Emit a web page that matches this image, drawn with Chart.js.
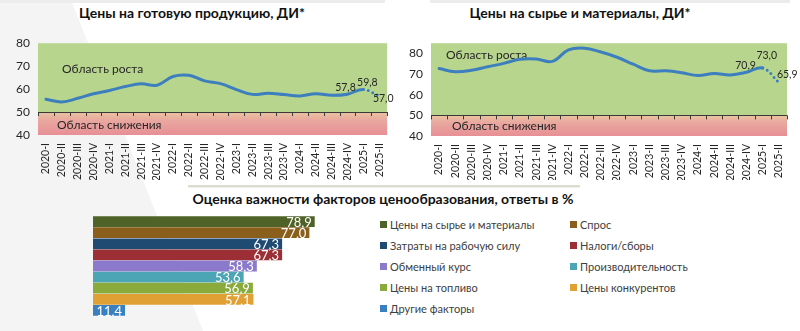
<!DOCTYPE html>
<html>
<head>
<meta charset="utf-8">
<script src="https://cdn.jsdelivr.net/npm/chart.js@4.4.1/dist/chart.umd.min.js"></script>
<style>
  html, body { margin:0; padding:0; background:#fff; width:800px; height:331px; overflow:hidden; font-family: Lato, "Open Sans", sans-serif; }
  .box { position:absolute; }
  .bgshape { position:absolute; left:0; top:0; width:800px; height:331px; background:#f4f4f4; clip-path: polygon(0 0, 71px 0, 203px 331px, 0 331px); }
  .title { position:absolute; font-weight:bold; font-size:14px; color:#111; white-space:nowrap; transform:translate(-50%,-50%); }
  #legend { position:absolute; left:380px; top:214px; display:grid; grid-template-columns:190px 150px; grid-auto-rows:21px; font-size:11px; color:#404040; }
  #legend .it { display:flex; align-items:center; white-space:nowrap; }
  #legend .sw { width:7px; height:7px; margin-right:3px; display:inline-block; }
  .deco { position:absolute; height:3px; background:#ececec; }
  .line2 { position:absolute; left:188px; top:185px; width:392px; height:2px; background:#dcdccc; box-shadow:0 1px 1px #eee; }
</style>
</head>
<body>
<div class="bgshape"></div>
<div class="deco" style="left:0;top:0;width:385px"></div>
<div class="deco" style="left:430px;top:0;width:360px"></div>
<div class="title" style="left:192px;top:12px">Цены на готовую продукцию, ДИ*</div>
<div class="title" style="left:580px;top:12px">Цены на сырье и материалы, ДИ*</div>
<div class="line2"></div>
<div class="title" style="left:383px;top:198px">Оценка важности факторов ценообразования, ответы в %</div>

<div class="box" style="left:0;top:28px;width:400px;height:152px"><canvas id="c1"></canvas></div>
<div class="box" style="left:400px;top:28px;width:400px;height:152px"><canvas id="c2"></canvas></div>
<div class="box" style="left:93px;top:216px;width:281px;height:100px"><canvas id="c3"></canvas></div>
<div id="legend"></div>

<script>
// ---- data ----
const quarters = ["2020-I","2020-II","2020-III","2020-IV","2021-I","2021-II","2021-III","2021-IV",
  "2022-I","2022-II","2022-III","2022-IV","2023-I","2023-II","2023-III","2023-IV",
  "2024-I","2024-II","2024-III","2024-IV","2025-I","2025-II"];
const finishedGoodsDI = [55.6, 54.4, 56.0, 58.0, 59.4, 61.1, 62.3, 61.7, 65.5, 66.0, 63.6, 62.4,
  59.8, 57.7, 58.2, 57.6, 57.0, 58.0, 57.3, 57.8, 59.8, 57.0];
const rawMaterialsDI = [72.7, 71.2, 71.9, 73.6, 75.2, 77.2, 77.3, 76.2, 81.8, 82.6, 80.7, 78.2,
  74.8, 71.6, 71.6, 70.7, 69.3, 70.3, 69.6, 70.9, 73.0, 65.9];
const yTicksLeft = [40, 50, 60, 70, 80];
const yTicksRight = [40, 50, 60, 70, 80];
const factorLabels = ["Цены на сырье и материалы","Спрос","Затраты на рабочую силу","Налоги/сборы",
  "Обменный курс","Производительность","Цены на топливо","Цены конкурентов","Другие факторы"];
const factorValues = [78.9, 77.0, 67.3, 67.3, 58.3, 53.6, 56.9, 57.1, 11.4];
const factorColors = ["#4f6228","#8a5f1c","#1f4b73","#9b2f35","#8b79cc","#4ba5b5","#8aab3c","#e0a033","#3a80c0"];

const FONT = "Lato, 'Open Sans', sans-serif";
const fmt = v => v.toFixed(1).replace('.', ',');

// background zones + axis at 50 + zone captions
const zonesPlugin = {
  id: 'zones',
  beforeDatasetsDraw(chart, args, opts) {
    const {ctx, chartArea: a, scales: {x, y}} = chart;
    const y50 = y.getPixelForValue(50);
    ctx.save();
    ctx.fillStyle = '#b8d58e';
    ctx.fillRect(a.left, a.top, a.right - a.left, y50 - a.top);
    const g = ctx.createLinearGradient(0, y50, 0, a.bottom);
    g.addColorStop(0, '#e9c4a0');
    g.addColorStop(0.35, '#e9a8a0');
    g.addColorStop(1, '#e78f95');
    ctx.fillStyle = g;
    ctx.fillRect(a.left, y50, a.right - a.left, a.bottom - y50);
    // axis line at 50 with tick marks
    ctx.strokeStyle = '#3a3a3a';
    ctx.lineWidth = 1;
    ctx.beginPath();
    ctx.moveTo(a.left, Math.round(y50) + 0.5);
    ctx.lineTo(a.right, Math.round(y50) + 0.5);
    for (let i = 0; i <= quarters.length; i++) {
      const px = Math.round(x.getPixelForValue(i - 0.5)) + 0.5;
      ctx.moveTo(px, y50);
      ctx.lineTo(px, y50 + 4);
    }
    ctx.stroke();
    ctx.fillStyle = '#262626';
    ctx.font = '12px ' + FONT;
    ctx.textBaseline = 'middle';
    ctx.fillText('Область роста', a.left + opts.growX, a.top + opts.growY);
    ctx.fillText('Область снижения', a.left + opts.fallX, y50 + opts.fallY);
    ctx.restore();
  },
  afterDatasetsDraw(chart, args, opts) {
    const {ctx} = chart;
    const meta = chart.getDatasetMeta(0);
    const data = chart.data.datasets[0].data;
    ctx.save();
    ctx.fillStyle = '#262626';
    ctx.font = '10.5px ' + FONT;
    ctx.textBaseline = 'middle';
    opts.labels.forEach(l => {
      const p = meta.data[l.i];
      ctx.textAlign = l.align || 'center';
      ctx.fillText(fmt(data[l.i]), p.x + l.dx, p.y + l.dy);
    });
    ctx.restore();
  }
};

function lineChart(id, values, max, yw, padR, padT, xh, ticks, zoneOpts) {
  const last = values.length - 1;
  return new Chart(document.getElementById(id), {
    type: 'line',
    data: {
      labels: quarters,
      datasets: [{
        data: values,
        borderColor: '#3d7fbe',
        borderWidth: 3,
        borderCapStyle: 'round',
        pointRadius: 0,
        tension: 0.4,
        segment: {
          borderDash: c => c.p1DataIndex === last ? [0, 5] : undefined
        }
      }]
    },
    plugins: [zonesPlugin],
    options: {
      responsive: true, maintainAspectRatio: false, animation: false,
      layout: { padding: { top: padT, right: padR, left: 0, bottom: 0 } },
      plugins: { legend: { display: false }, tooltip: { enabled: false }, zones: zoneOpts },
      scales: {
        x: {
          offset: true,
          grid: { display: false, drawTicks: false },
          border: { display: false },
          ticks: { minRotation: 90, maxRotation: 90, autoSkip: false, padding: 8,
                   font: { size: 10.5, family: FONT }, color: '#262626' },
          afterFit: s => { s.height = xh; }
        },
        y: {
          min: 40, max: max,
          grid: { display: false, drawTicks: false },
          border: { display: false },
          afterBuildTicks: s => { s.ticks = ticks.map(v => ({ value: v })); },
          ticks: { padding: 8, font: { size: 12, family: FONT }, color: '#262626' },
          afterFit: s => { s.width = yw; }
        }
      }
    }
  });
}

lineChart('c1', finishedGoodsDI, 80, 38, 7, 10, 45, yTicksLeft, {
  growX: 24, growY: 26, fallX: 19, fallY: 13,
  labels: [
    { i: 19, dx: -2, dy: -7 },
    { i: 20, dx: 4, dy: -7 },
    { i: 21, dx: 4, dy: 3 }
  ]
});
lineChart('c2', rawMaterialsDI, 85, 31, 13, 13, 44, yTicksRight, {
  growX: 15, growY: 12, fallX: 21, fallY: 11,
  labels: [
    { i: 19, dx: -1, dy: -7 },
    { i: 20, dx: 4, dy: -12 },
    { i: 21, dx: -2, dy: -8, align: 'left' }
  ]
});

// bar chart
const barLabels = {
  id: 'barLabels',
  afterDatasetsDraw(chart) {
    const {ctx} = chart;
    const meta = chart.getDatasetMeta(0);
    ctx.save();
    ctx.fillStyle = '#ffffff';
    ctx.font = '13px ' + FONT;
    ctx.textAlign = 'right';
    ctx.textBaseline = 'middle';
    meta.data.forEach((b, i) => {
      ctx.fillText(fmt(factorValues[i]), b.x - 3, b.y + 1);
    });
    ctx.restore();
  }
};
new Chart(document.getElementById('c3'), {
  type: 'bar',
  data: {
    labels: factorLabels,
    datasets: [{
      data: factorValues,
      backgroundColor: factorColors,
      borderWidth: 0,
      barPercentage: 0.97,
      categoryPercentage: 1
    }]
  },
  plugins: [barLabels],
  options: {
    indexAxis: 'y',
    responsive: true, maintainAspectRatio: false, animation: false,
    layout: { padding: 0 },
    plugins: { legend: { display: false }, tooltip: { enabled: false } },
    scales: {
      x: { display: false, min: 0, max: 100 },
      y: { display: false }
    }
  }
});

// legend from the same arrays
const lg = document.getElementById('legend');
factorLabels.forEach((t, i) => {
  const d = document.createElement('div');
  d.className = 'it';
  d.innerHTML = '<span class="sw" style="background:' + factorColors[i] + '"></span>';
  d.appendChild(document.createTextNode(t));
  lg.appendChild(d);
});
</script>
</body>
</html>
